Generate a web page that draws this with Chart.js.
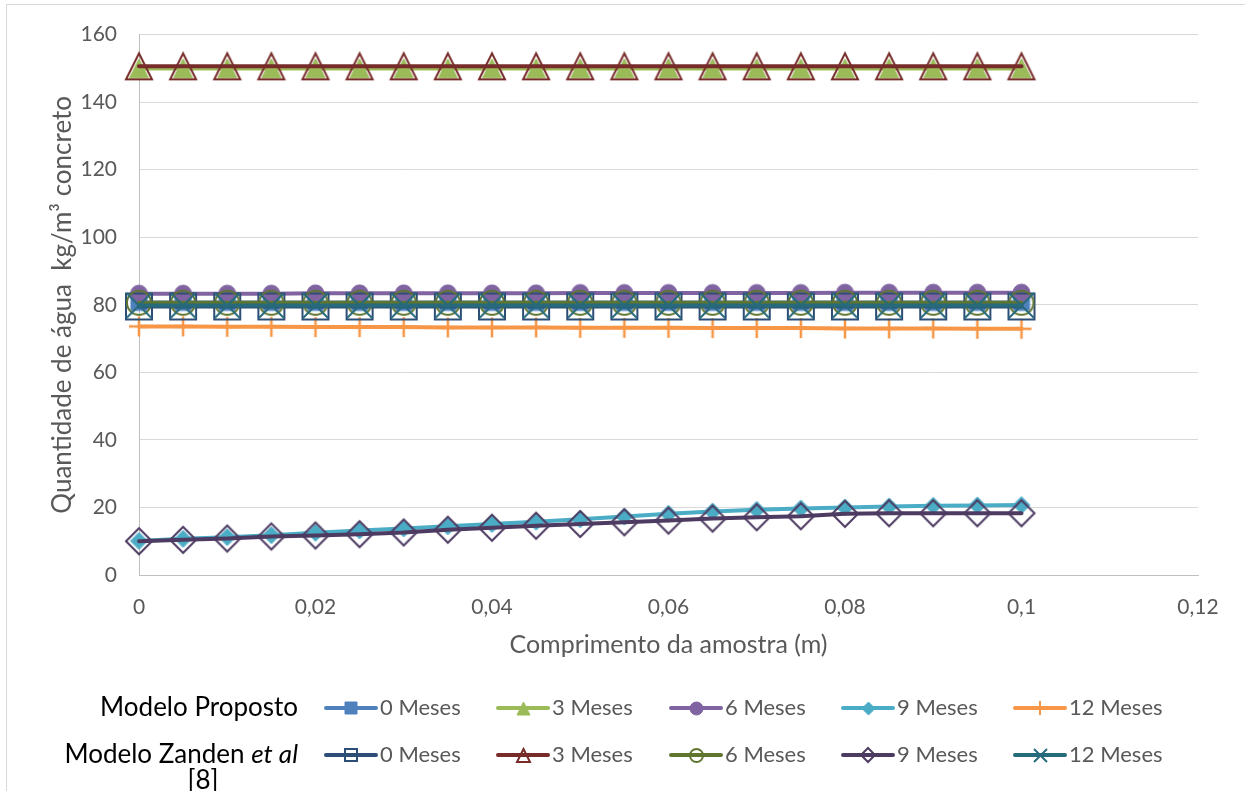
<!DOCTYPE html>
<html>
<head>
<meta charset="utf-8">
<script src="https://cdn.jsdelivr.net/npm/chart.js@4.4.1/dist/chart.umd.min.js"></script>
<style>
  html, body { margin: 0; padding: 0; background: #ffffff; }
  #wrap { width: 1245px; height: 791px; position: relative; }
</style>
</head>
<body>
<div id="wrap"><canvas id="chart" width="1245" height="791"></canvas></div>
<script>
// Sample length positions (m)
const positions = [0, 0.005, 0.01, 0.015, 0.02, 0.025, 0.03, 0.035, 0.04, 0.045, 0.05,
                   0.055, 0.06, 0.065, 0.07, 0.075, 0.08, 0.085, 0.09, 0.095, 0.1];

// Modelo Proposto (kg/m³)
const proposto0 = [80.7, 80.7, 80.7, 80.7, 80.7, 80.7, 80.7, 80.7, 80.7, 80.7, 80.7,
                   80.7, 80.7, 80.7, 80.7, 80.7, 80.7, 80.7, 80.7, 80.7, 80.7];
const proposto3 = [150.0, 150.0, 150.0, 150.0, 150.0, 150.0, 150.0, 150.0, 150.0, 150.0, 150.0,
                   150.0, 150.0, 150.0, 150.0, 150.0, 150.0, 150.0, 150.0, 150.0, 150.0];
const proposto6 = [83.3, 83.3, 83.3, 83.3, 83.4, 83.4, 83.4, 83.4, 83.4, 83.4, 83.5,
                   83.5, 83.5, 83.5, 83.5, 83.5, 83.6, 83.6, 83.6, 83.6, 83.6];
const proposto9 = [10.1, 10.7, 11.2, 11.8, 12.5, 13.2, 13.8, 14.4, 15.1, 15.8, 16.5,
                   17.3, 18.1, 18.8, 19.3, 19.7, 20.0, 20.3, 20.5, 20.6, 20.7];
const proposto12 = [73.6, 73.6, 73.5, 73.5, 73.4, 73.4, 73.4, 73.3, 73.3, 73.3, 73.2,
                    73.2, 73.2, 73.1, 73.1, 73.1, 73.0, 73.0, 73.0, 72.9, 72.9];

// Modelo Zanden et al [8] (kg/m³)
const zanden0 = [79.5, 79.5, 79.5, 79.5, 79.5, 79.5, 79.5, 79.5, 79.5, 79.5, 79.5,
                 79.5, 79.5, 79.5, 79.5, 79.5, 79.5, 79.5, 79.5, 79.5, 79.5];
const zanden3 = [150.6, 150.6, 150.6, 150.6, 150.6, 150.6, 150.6, 150.6, 150.6, 150.6, 150.6,
                 150.6, 150.6, 150.6, 150.6, 150.6, 150.6, 150.6, 150.6, 150.6, 150.6];
const zanden6 = [80.6, 80.6, 80.6, 80.6, 80.6, 80.6, 80.6, 80.6, 80.6, 80.6, 80.6,
                 80.6, 80.6, 80.6, 80.6, 80.6, 80.6, 80.6, 80.6, 80.6, 80.6];
const zanden9 = [10.0, 10.4, 10.8, 11.4, 11.7, 12.1, 12.6, 13.4, 14.0, 14.6, 15.1,
                 15.6, 16.1, 16.7, 17.1, 17.4, 18.1, 18.3, 18.3, 18.3, 18.3];
const zanden12 = [79.8, 79.8, 79.8, 79.8, 79.8, 79.8, 79.8, 79.8, 79.8, 79.8, 79.8,
                  79.8, 79.8, 79.8, 79.8, 79.8, 79.8, 79.8, 79.8, 79.8, 79.8];

const seriesLabels = ['0 Meses', '3 Meses', '6 Meses', '9 Meses', '12 Meses'];
const groupLabels = ['Modelo Proposto', 'Modelo Zanden et al [8]'];

const TEXT = '#595959';
const FONT = 'Lato, "Open Sans", sans-serif';

// Builds a marker bitmap used as the point style
function marker(shape, size, fill, stroke, lw) {
  const pad = Math.ceil(lw) + 2;
  const dim = Math.ceil(size) + pad * 2;
  const c = document.createElement('canvas');
  c.width = dim; c.height = dim;
  const g = c.getContext('2d');
  const m = dim / 2, h = size / 2;
  g.beginPath();
  if (shape === 'square') g.rect(m - h, m - h, size, size);
  else if (shape === 'triangle') { g.moveTo(m, m - h); g.lineTo(m + h, m + h); g.lineTo(m - h, m + h); g.closePath(); }
  else if (shape === 'circle') g.arc(m, m, h, 0, Math.PI * 2);
  else if (shape === 'diamond') { g.moveTo(m, m - h); g.lineTo(m + h, m); g.lineTo(m, m + h); g.lineTo(m - h, m); g.closePath(); }
  else if (shape === 'plus') { g.moveTo(m - h, m); g.lineTo(m + h, m); g.moveTo(m, m - h); g.lineTo(m, m + h); }
  else if (shape === 'x') { g.moveTo(m - h, m - h); g.lineTo(m + h, m + h); g.moveTo(m + h, m - h); g.lineTo(m - h, m + h); }
  if (fill) { g.fillStyle = fill; g.fill(); }
  if (stroke) { g.strokeStyle = stroke; g.lineWidth = lw; g.stroke(); }
  return c;
}

// Series styling: colour, marker shape, plot marker spec, legend marker spec
const styles = [
  { color: '#4f81bd', shape: 'square',   plot: [16, true, 1],   leg: [12, true, 1] },
  { color: '#9bbb59', shape: 'triangle', plot: [19, true, 1],   leg: [13, true, 1] },
  { color: '#8064a2', shape: 'circle',   plot: [17, true, 1],   leg: [13, true, 1] },
  { color: '#4bacc6', shape: 'diamond',  plot: [17, true, 1],   leg: [13, true, 1] },
  { color: '#f79646', shape: 'plus',     plot: [20, false, 2.5], leg: [14, false, 2] },
  { color: '#2c4d75', shape: 'square',   plot: [26, false, 2],  leg: [12, false, 2] },
  { color: '#772c2a', shape: 'triangle', plot: [26, false, 2],  leg: [13, false, 2] },
  { color: '#5f7530', shape: 'circle',   plot: [24, false, 2],  leg: [13, false, 2] },
  { color: '#4d3b62', shape: 'diamond',  plot: [26, false, 2],  leg: [14, false, 2] },
  { color: '#276a7c', shape: 'x',        plot: [25, false, 2],  leg: [13, false, 2] }
];

const seriesValues = [proposto0, proposto3, proposto6, proposto9, proposto12,
                      zanden0, zanden3, zanden6, zanden9, zanden12];

function makeMarker(st, spec) {
  const [size, filled, lw] = spec;
  return marker(st.shape, size, filled ? st.color : null, st.color, lw);
}

const datasets = seriesValues.map((vals, i) => {
  const st = styles[i];
  return {
    label: (i < 5 ? groupLabels[0] : groupLabels[1]) + ' ' + seriesLabels[i % 5],
    data: positions.map((x, k) => ({ x: x, y: vals[k] })),
    borderColor: st.color,
    backgroundColor: st.color,
    borderWidth: 4,
    borderCapStyle: 'round',
    borderJoinStyle: 'round',
    tension: 0,
    fill: false,
    pointStyle: makeMarker(st, st.plot),
    legendMarker: makeMarker(st, st.leg),
    pointRadius: 6,
    pointHoverRadius: 6,
    clip: false,
    order: 10 - i
  };
});

// Two-row legend with group captions on the left
const legendPlugin = {
  id: 'groupLegend',
  afterDraw(chart) {
    const ctx = chart.ctx;
    ctx.save();
    // outer frame
    ctx.strokeStyle = '#d9d9d9';
    ctx.lineWidth = 1;
    ctx.strokeRect(6.5, 4.5, 1400, 1000);

    const rowY = [708, 755];
    ctx.textBaseline = 'middle';
    ctx.fillStyle = '#000000';
    ctx.font = '26px ' + FONT;
    ctx.textAlign = 'right';
    ctx.fillText('Modelo Proposto', 298, rowY[0]);
    const italicPart = 'et al';
    ctx.font = 'italic 26px ' + FONT;
    const wItalic = ctx.measureText(italicPart).width;
    ctx.fillText(italicPart, 298, rowY[1]);
    ctx.font = '26px ' + FONT;
    ctx.fillText('Modelo Zanden ', 298 - wItalic, rowY[1]);
    ctx.textAlign = 'center';
    ctx.fillText('[8]', 203, 781);

    const colX = [324, 496, 669, 841, 1013];
    ctx.font = '22px ' + FONT;
    ctx.textAlign = 'left';
    chart.data.datasets.forEach((ds, i) => {
      const row = i < 5 ? 0 : 1;
      const x0 = colX[i % 5];
      const y = rowY[row];
      ctx.strokeStyle = ds.borderColor;
      ctx.lineWidth = 4;
      ctx.lineCap = 'round';
      ctx.beginPath();
      ctx.moveTo(x0 + 2, y);
      ctx.lineTo(x0 + 52, y);
      ctx.stroke();
      const mk = ds.legendMarker;
      ctx.drawImage(mk, Math.round(x0 + 27 - mk.width / 2), Math.round(y - mk.height / 2));
      ctx.fillStyle = TEXT;
      ctx.fillText(seriesLabels[i % 5], x0 + 56, y);
    });
    ctx.restore();
  }
};

new Chart(document.getElementById('chart'), {
  type: 'line',
  data: { datasets: datasets },
  plugins: [legendPlugin],
  options: {
    responsive: false,
    animation: false,
    events: [],
    layout: { padding: { left: 0, top: 34, right: 47, bottom: 130 } },
    plugins: { legend: { display: false }, tooltip: { enabled: false } },
    scales: {
      x: {
        type: 'linear',
        min: 0,
        max: 0.12,
        afterFit(scale) { scale.height = 86; },
        ticks: {
          stepSize: 0.02,
          padding: 20,
          color: TEXT,
          font: { family: FONT, size: 21 },
          callback: v => String(Number(v.toFixed(3))).replace('.', ',')
        },
        grid: { display: false, drawTicks: false },
        border: { display: true, color: '#bfbfbf', width: 1 },
        title: {
          display: true,
          text: 'Comprimento da amostra (m)',
          color: TEXT,
          font: { family: FONT, size: 25 },
          padding: { top: 0, bottom: 1 }
        }
      },
      y: {
        min: 0,
        max: 160,
        afterFit(scale) { scale.width = 139; },
        ticks: {
          stepSize: 20,
          padding: 22,
          color: TEXT,
          font: { family: FONT, size: 21 }
        },
        grid: { color: '#d9d9d9', lineWidth: 1, drawTicks: false },
        border: { display: true, color: '#bfbfbf', width: 1 },
        title: {
          display: true,
          text: 'Quantidade de água  kg/m³ concreto',
          color: TEXT,
          font: { family: FONT, size: 26 },
          padding: { top: 47, bottom: 0 }
        }
      }
    }
  }
});
</script>
</body>
</html>
